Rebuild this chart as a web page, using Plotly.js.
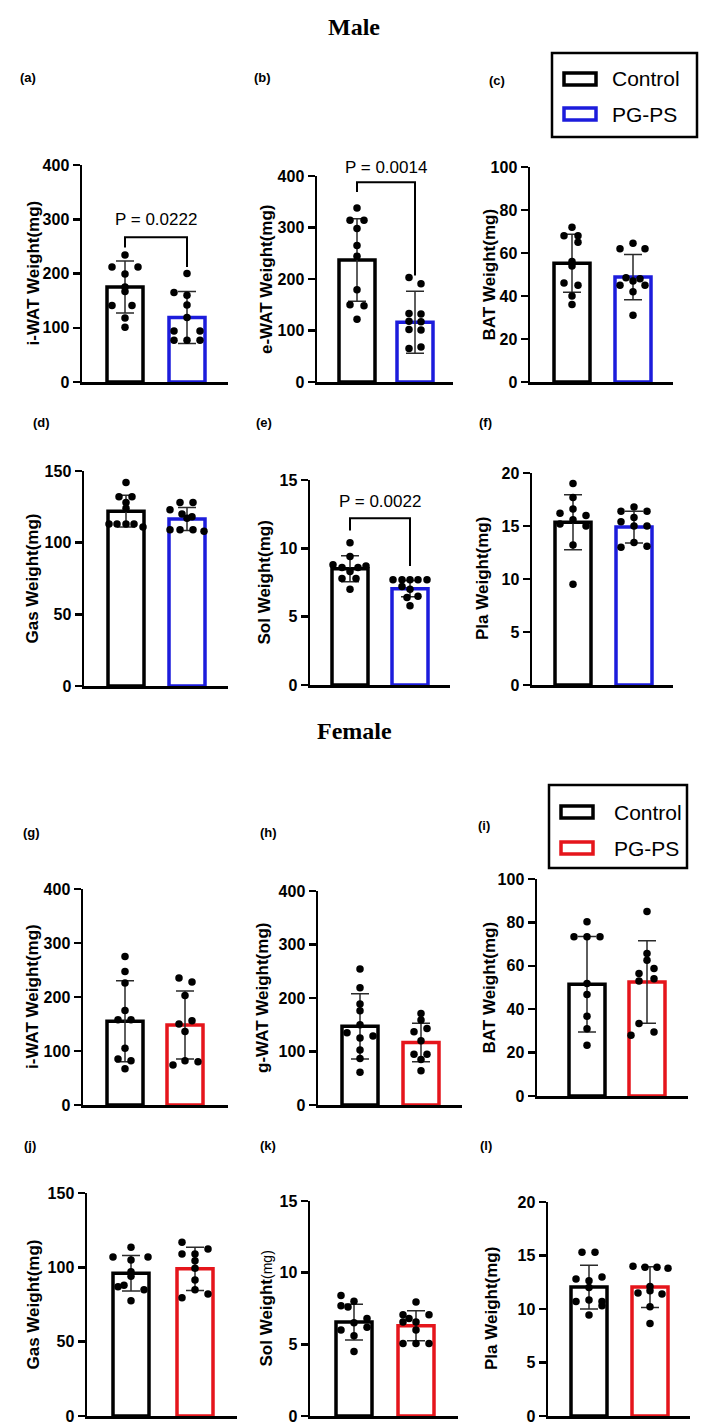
<!DOCTYPE html>
<html>
<head>
<meta charset="utf-8">
<script src="https://cdn.plot.ly/plotly-3.0.1.min.js"></script>
<style>html,body{margin:0;padding:0;background:#fff;}#chart{width:709px;height:1426px;}</style>
</head>
<body>
<div id="chart"></div>
<script>
// ---------------- DATA ----------------
const groups = ['Control', 'PG-PS'];
const sexTitles = ['Male', 'Female'];
const panelLabels = ['(a)','(b)','(c)','(d)','(e)','(f)','(g)','(h)','(i)','(j)','(k)','(l)'];
const yTitles = ['i-WAT Weight(mg)','e-WAT Weight(mg)','BAT Weight(mg)','Gas Weight(mg)','Sol Weight(mg)','Pla Weight(mg)',
                 'i-WAT Weight(mg)','g-WAT Weight(mg)','BAT Weight(mg)','Gas Weight(mg)','Sol Weight','Pla Weight(mg)'];
const yTitleSuffix = ['','','','','','','','','','','(mg)',''];
const yMax  = [400,400,100,150,15,20,400,400,100,150,15,20];
const yStep = [100,100,20,50,5,5,100,100,20,50,5,5];

const ctrlMean = [175,237,55.2,122,8.5,15.35,155,147,51.5,96,6.55,12.05];
const ctrlSD   = [48,80,13.5,11,0.95,2.6,75,61,22,12,1.25,2.05];
const pgpsMean = [119,116,48.8,116.5,7.05,14.9,148,117,52.5,99,6.3,12.05];
const pgpsSD   = [48,60,10.5,8,0.6,1.5,63,36,19,14.5,1.05,1.9];

const ctrlDots = [
  [234,212,212,199,175,167,141,141,118,101],
  [338,314,314,298,265,244,179,150,148,122],
  [72,68,68,65,56,54,46,45,40,36],
  [142,132,132,128,124,113,113,113,113,111],
  [10.4,9.4,8.8,8.6,8.6,8.7,8.3,7.8,7.8,7.0],
  [19.0,17.7,16.6,16.2,16.0,15.6,15.2,15.0,13.2,9.5],
  [275,247,226,175,158,158,105,85,82,67],
  [254,219,189,176,150,135,129,125,103,87,61],
  [80.3,73.4,73.4,73.4,51.8,46.8,36.8,31,23.4],
  [113.5,107,107,105,97,94,88,87,85,77.5],
  [8.4,8.0,7.7,7.6,6.8,6.5,6.2,6.0,5.6,4.5],
  [15.3,15.3,13.0,12.8,12.65,12.0,10.85,10.7,10.7,10.3,9.44]
];
const pgpsDots = [
  [200,165,160,142,119,94,94,77,77,77],
  [203,191,133,132,118,117,102,101,65,68],
  [64.5,62,62,48.5,48,47,45,45,42,31],
  [128,128,123,120,118,117,109,109,109,108],
  [7.7,7.7,7.7,7.7,7.7,7.2,7.0,6.5,6.4,5.8],
  [16.8,16.4,16.4,15.8,15.4,15.0,15.0,13.45,13.0,13.1],
  [235,228,203,156,150,136,82,80,74],
  [171,159,143,137,120,95,95,85,64],
  [85,65.7,62.6,58.8,56.5,54,53,33.4,29.5,28],
  [116.8,112.4,109,109,104.5,99.3,91.5,85,82,79.6],
  [7.95,7.07,7.07,6.8,6.56,6.56,6.0,5.05,5.05,5.05],
  [14.0,13.9,13.9,13.8,12.1,11.7,11.5,11.4,10.2,8.65]
];

// significance annotations
const sigPanel  = [0, 1, 4];
const sigText   = ['P = 0.0222', 'P = 0.0014', 'P = 0.0022'];
const sigTopY   = [267, 388, 12.2];
const sigLeftY  = [248, 369, 11.3];
const sigRightY = [212, 207, 8.7];
const sigTextY  = [299, 417, 13.4];

// ---------------- LAYOUT / STYLE ----------------
const W = 709, H = 1426;
const BLUE = '#1c1cdc', RED = '#e5151b';
// pixel geometry of each panel: y-axis x, x-axis end, top tick y, zero y, bar centres
const GEOM = [
  {xl:82,  xr:228, yt:165,  yb:382,  c0:125, c1:187},
  {xl:317, xr:453, yt:176,  yb:382,  c0:357, c1:415},
  {xl:530, xr:673, yt:167,  yb:382,  c0:572, c1:633},
  {xl:84,  xr:228, yt:471,  yb:686,  c0:126, c1:187},
  {xl:310, xr:450, yt:480,  yb:685,  c0:350, c1:410},
  {xl:532, xr:673, yt:473,  yb:685,  c0:573, c1:634},
  {xl:83,  xr:228, yt:889,  yb:1105, c0:125, c1:185},
  {xl:318, xr:462, yt:891,  yb:1105, c0:360, c1:421},
  {xl:537, xr:688, yt:879,  yb:1096, c0:587, c1:647},
  {xl:87,  xr:237, yt:1193, yb:1416, c0:131, c1:195},
  {xl:310, xr:458, yt:1201, yb:1416, c0:354, c1:416},
  {xl:548, xr:690, yt:1202, yb:1416, c0:589, c1:650}
];
// horizontal jitter of dots (px)
const ctrlJit = [
  [0,-13,13,0,0,0,-13,7,0,0],
  [0,-7,7,0,0,0,0,-7,7,0],
  [0,-8,6,6,0,0,-8,6,0,0],
  [0,-7,6,0,0,-17,-9,0,8,17],
  [0,0,-17,-8,8,16,0,-8,6,0],
  [0,0,0,-13,13,0,-13,13,0,0],
  [0,0,0,0,-7,6,0,-7,6,0],
  [0,0,0,0,0,-13,13,0,0,0,0],
  [0,-13,0,13,0,0,0,0,0],
  [0,-18,17,0,0,0,-7,-13,13,0],
  [-13,0,-13,-6,13,0,13,-13,0,0],
  [-7,6,13,-13,0,0,0,-13,13,13,0]
];
const pgpsJit = [
  [0,-13,0,0,0,-13,13,-13,0,13],
  [-6,6,-6,6,-6,6,-6,6,-6,6],
  [0,-13,12,-7,7,0,-13,12,0,0],
  [-7,6,-17,-5,5,0,-17,-7,6,17],
  [-17,-8,0,8,17,-8,0,8,-3,0],
  [0,-13,13,0,-13,0,13,0,-13,13],
  [-6,7,0,7,-6,0,0,13,-12],
  [0,0,6,-7,0,-7,6,0,0],
  [0,0,0,7,-8,7,-8,-8,7,-16],
  [-13,13,-13,0,0,0,0,0,13,-13],
  [0,-13,13,-7,-13,0,0,-13,0,13],
  [-17,-5,7,18,0,0,-12,12,0,0]
];
const labelPos = [[28,78],[262,78],[497,80],[41,423],[264,423],[485,423],[31,832],[268,832],[484,825],[30,1145],[268,1145],[486,1145]];
const yTitleX = [33,266,489,32,264,483,32,263,489,33,266,491];
const titlePos = [[354,27],[354,731]];
const legendBox = [{x0:552,x1:697,y0:53,y1:137,s1:79,s2:114,tx:610}, {x0:549,x1:687,y0:785,y1:868,s1:812,s2:848,tx:612}];

const SANS = 'Liberation Sans, Arial, sans-serif';
const SERIF = 'Liberation Serif, Times New Roman, serif';
const px2x = p => p / W;
const px2y = p => 1 - p / H;

const data = [];
const layout = {
  width: W, height: H,
  margin: {l:0, r:0, t:0, b:0},
  paper_bgcolor: '#fff', plot_bgcolor: 'rgba(0,0,0,0)',
  showlegend: false,
  shapes: [], annotations: []
};

for (let i = 0; i < 12; i++) {
  const g = GEOM[i];
  const ppu = g.c1 - g.c0;
  const sfx = i === 0 ? '' : String(i + 1);
  const xa = 'x' + sfx, ya = 'y' + sfx;
  const pg = i < 6 ? BLUE : RED;

  layout['xaxis' + sfx] = {
    domain: [px2x(g.xl), px2x(g.xr)],
    range: [-(g.c0 - g.xl) / ppu, (g.xr - g.c0) / ppu],
    anchor: ya, showline: true, linecolor: '#000', linewidth: 2.5,
    ticks: '', showticklabels: false, showgrid: false, zeroline: false, fixedrange: true
  };
  layout['yaxis' + sfx] = {
    domain: [px2y(g.yb), px2y(g.yt)],
    range: [0, yMax[i]], anchor: xa,
    showline: true, linecolor: '#000', linewidth: 2.5,
    ticks: 'outside', ticklen: 7, tickwidth: 2.5, tickcolor: '#000',
    tick0: 0, dtick: yStep[i],
    tickfont: {family: SANS, size: 16, color: '#000', weight: 'bold'},
    showgrid: false, zeroline: false, fixedrange: true
  };

  data.push({
    type: 'bar', xaxis: xa, yaxis: ya,
    x: [0, 1], y: [ctrlMean[i], pgpsMean[i]],
    width: 36 / ppu,
    marker: {color: '#fff', line: {color: ['#000', pg], width: 3.5}},
    error_y: {type: 'data', array: [ctrlSD[i], pgpsSD[i]], visible: true, color: '#2a2a2a', thickness: 1.5, width: 9},
    hoverinfo: 'skip'
  });
  const xs = [], ys = [];
  ctrlDots[i].forEach((v, k) => { xs.push(0 + ctrlJit[i][k] / ppu); ys.push(v); });
  pgpsDots[i].forEach((v, k) => { xs.push(1 + pgpsJit[i][k] / ppu); ys.push(v); });
  data.push({
    type: 'scatter', mode: 'markers', xaxis: xa, yaxis: ya,
    x: xs, y: ys, cliponaxis: false,
    marker: {color: '#000', size: 7.5, line: {width: 0}},
    hoverinfo: 'skip'
  });

  // panel label
  layout.annotations.push({
    xref: 'paper', yref: 'paper', x: px2x(labelPos[i][0]), y: px2y(labelPos[i][1]),
    text: panelLabels[i], showarrow: false, xanchor: 'center', yanchor: 'middle',
    font: {family: SANS, size: 13, color: '#000', weight: 'bold'}
  });
  // y axis title
  const suffix = yTitleSuffix[i] ? `<span style="font-size:14px;font-weight:normal">${yTitleSuffix[i]}</span>` : '';
  layout.annotations.push({
    xref: 'paper', yref: 'paper', x: px2x(yTitleX[i]), y: px2y((g.yt + g.yb) / 2),
    text: yTitles[i] + suffix, textangle: -90, showarrow: false, xanchor: 'center', yanchor: 'middle',
    font: {family: SANS, size: 17, color: '#000', weight: 'bold'}
  });
}

// significance brackets
sigPanel.forEach((p, k) => {
  const sfx = p === 0 ? '' : String(p + 1);
  const g = GEOM[p];
  layout.shapes.push({
    type: 'path', xref: 'x' + sfx, yref: 'y' + sfx,
    path: `M0,${sigLeftY[k]} L0,${sigTopY[k]} L1,${sigTopY[k]} L1,${sigRightY[k]}`,
    line: {color: '#000', width: 2}
  });
  const ty = g.yb - (sigTextY[k] / yMax[p]) * (g.yb - g.yt);
  layout.annotations.push({
    xref: 'paper', yref: 'paper', x: px2x((g.c0 + g.c1) / 2), y: px2y(ty),
    text: sigText[k], showarrow: false, xanchor: 'center', yanchor: 'middle',
    font: {family: SANS, size: 17, color: '#000'}
  });
});

// section titles
sexTitles.forEach((t, k) => {
  layout.annotations.push({
    xref: 'paper', yref: 'paper', x: px2x(titlePos[k][0]), y: px2y(titlePos[k][1]),
    text: t, showarrow: false, xanchor: 'center', yanchor: 'middle',
    font: {family: SERIF, size: 24, color: '#000', weight: 'bold'}
  });
});

// legends
legendBox.forEach((b, k) => {
  const pg = k === 0 ? BLUE : RED;
  layout.shapes.push({type: 'rect', xref: 'paper', yref: 'paper',
    x0: px2x(b.x0), x1: px2x(b.x1), y0: px2y(b.y1), y1: px2y(b.y0),
    line: {color: '#000', width: 2.5}, fillcolor: 'rgba(0,0,0,0)'});
  [[b.s1, '#000', groups[0]], [b.s2, pg, groups[1]]].forEach(([cy, col, txt]) => {
    layout.shapes.push({type: 'rect', xref: 'paper', yref: 'paper',
      x0: px2x(b.x0 + 12), x1: px2x(b.x0 + 44), y0: px2y(cy + 6), y1: px2y(cy - 6),
      line: {color: col, width: 3.5}, fillcolor: '#fff'});
    layout.annotations.push({xref: 'paper', yref: 'paper', x: px2x(b.tx), y: px2y(cy),
      text: txt, showarrow: false, xanchor: 'left', yanchor: 'middle',
      font: {family: SANS, size: 21, color: '#000'}});
  });
});

Plotly.newPlot('chart', data, layout, {staticPlot: true, displayModeBar: false});
</script>
</body>
</html>
